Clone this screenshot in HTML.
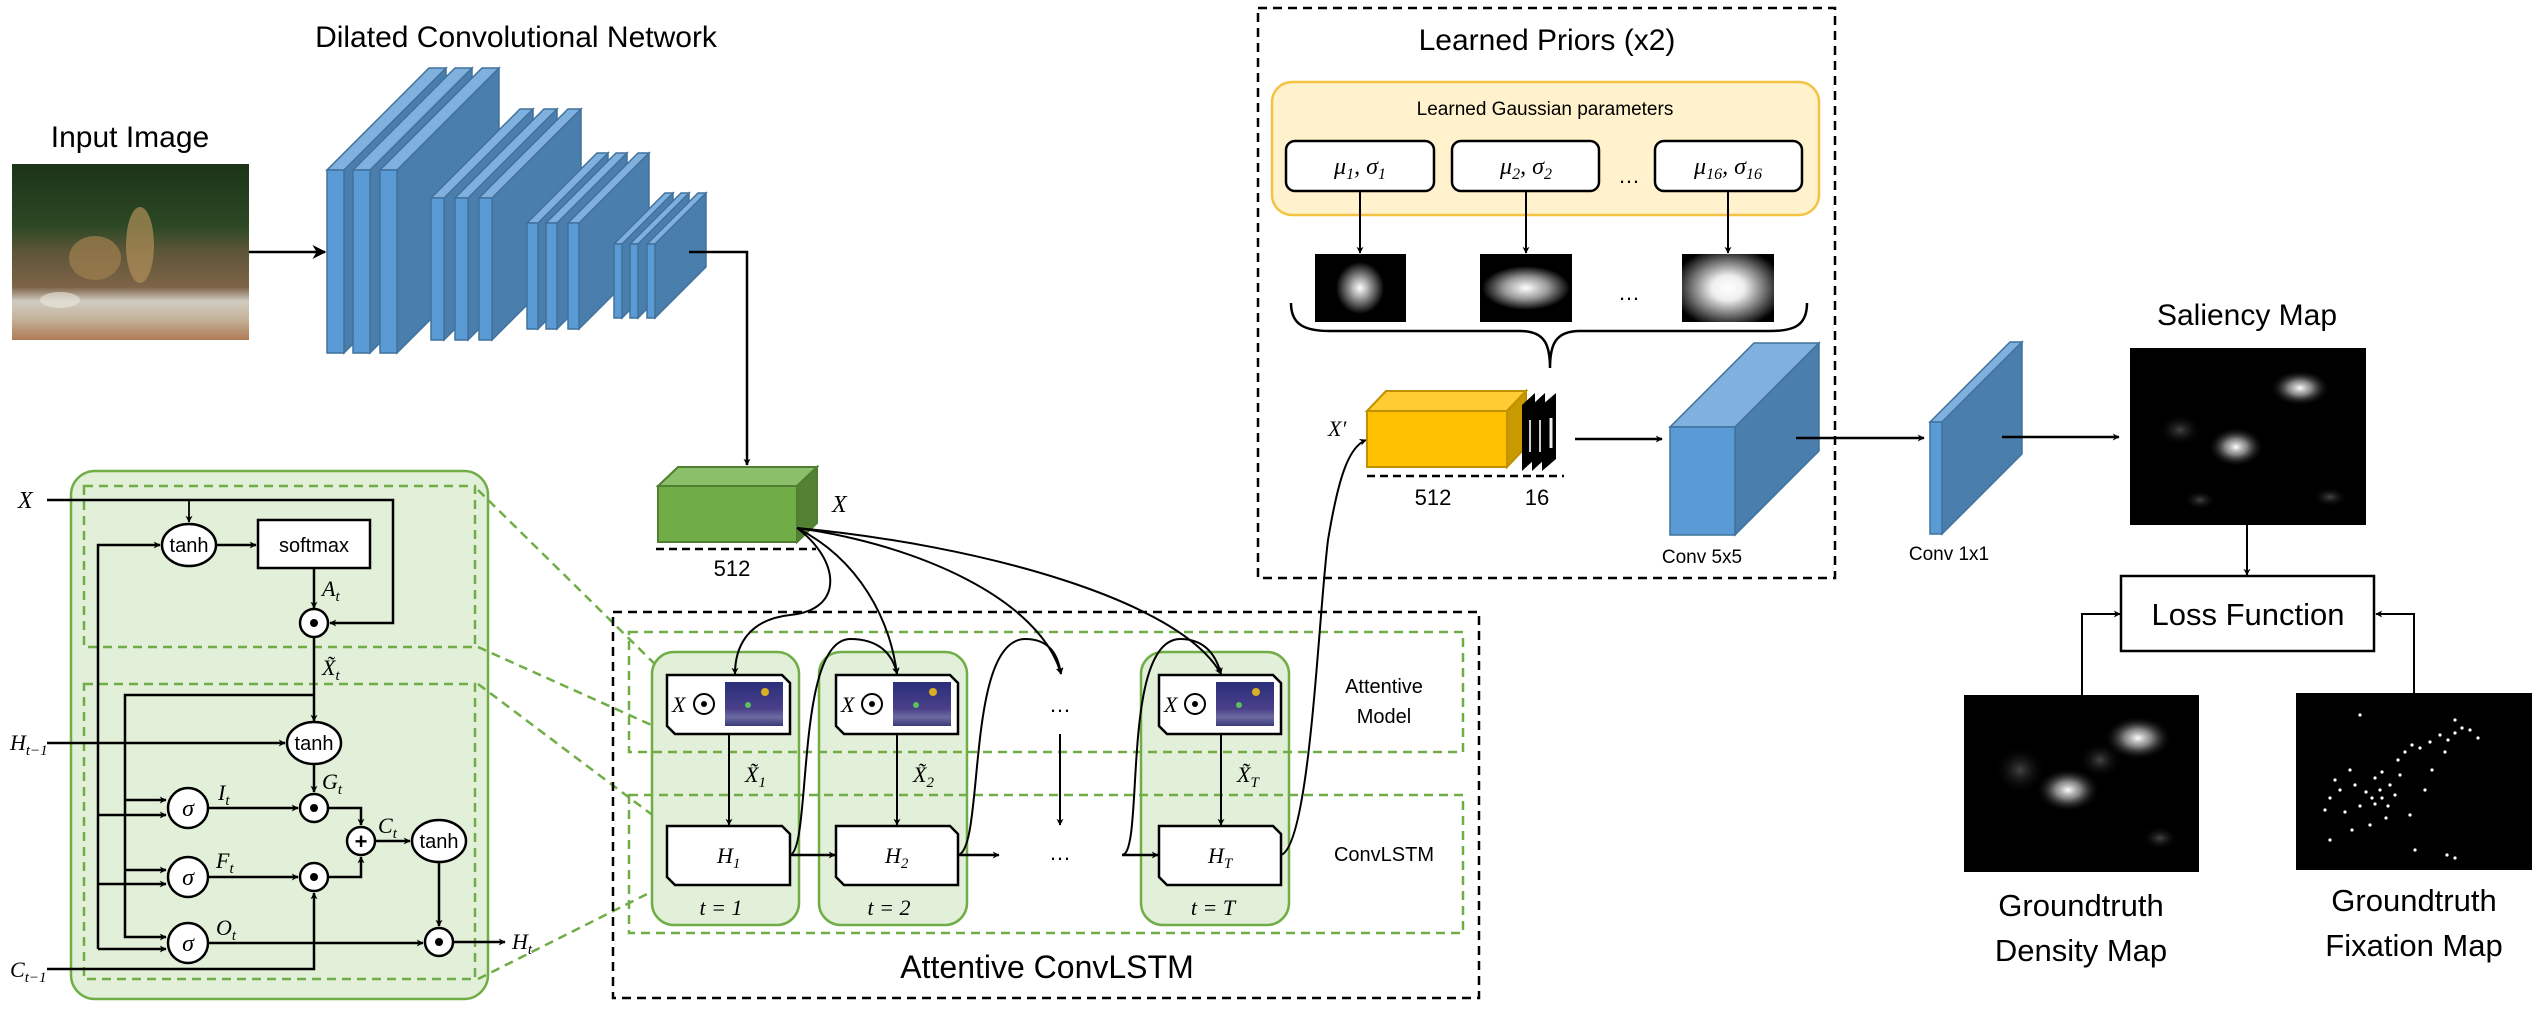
<!DOCTYPE html>
<html><head><meta charset="utf-8"><style>
html,body{margin:0;padding:0;background:#fff;}
svg{display:block;}
.s{font-family:"Liberation Sans",sans-serif;fill:#000;}
.m{font-family:"Liberation Serif",serif;font-style:italic;fill:#000;}
</style></head><body>
<svg width="2536" height="1010" viewBox="0 0 2536 1010" xmlns="http://www.w3.org/2000/svg">
<defs>
<marker id="a" viewBox="0 0 10 10" refX="9" refY="5" markerWidth="7" markerHeight="7" orient="auto-start-reverse" markerUnits="userSpaceOnUse"><path d="M0,0 L10,5 L0,10 L3,5 z" fill="#000"/></marker>
<marker id="b" viewBox="0 0 10 10" refX="9" refY="5" markerWidth="14" markerHeight="14" orient="auto" markerUnits="userSpaceOnUse"><path d="M0,0 L10,5 L0,10 L3,5 z" fill="#000"/></marker>
<radialGradient id="g1" cx="0.5" cy="0.5" r="0.5"><stop offset="0" stop-color="#fff"/><stop offset="0.35" stop-color="#aaa"/><stop offset="1" stop-color="#000"/></radialGradient>
<radialGradient id="g2"><stop offset="0" stop-color="#fff"/><stop offset="0.5" stop-color="#999"/><stop offset="1" stop-color="#000"/></radialGradient>
<radialGradient id="g3" cx="0.5" cy="0.5" r="0.6"><stop offset="0" stop-color="#fff"/><stop offset="0.3" stop-color="#eee"/><stop offset="0.75" stop-color="#555"/><stop offset="1" stop-color="#000"/></radialGradient>
<radialGradient id="blob"><stop offset="0" stop-color="#fff" stop-opacity="1"/><stop offset="0.4" stop-color="#bbb" stop-opacity="0.7"/><stop offset="1" stop-color="#000" stop-opacity="0"/></radialGradient>
<radialGradient id="faint"><stop offset="0" stop-color="#555" stop-opacity="0.8"/><stop offset="1" stop-color="#000" stop-opacity="0"/></radialGradient>
<linearGradient id="photo" x1="0" y1="0" x2="0" y2="1"><stop offset="0" stop-color="#1c3318"/><stop offset="0.35" stop-color="#2c4824"/><stop offset="0.5" stop-color="#5e5538"/><stop offset="0.7" stop-color="#7e6448"/><stop offset="0.78" stop-color="#d0ccc2"/><stop offset="0.88" stop-color="#c4b39a"/><stop offset="1" stop-color="#b07a55"/></linearGradient>
<linearGradient id="att" x1="0" y1="0" x2="0" y2="1"><stop offset="0" stop-color="#2a2f7a"/><stop offset="0.6" stop-color="#4a3f8a"/><stop offset="0.8" stop-color="#6b6aa0"/><stop offset="1" stop-color="#3a3a7a"/></linearGradient>
</defs>

<!-- Titles -->
<text class="s" x="516" y="47" font-size="30" text-anchor="middle">Dilated Convolutional Network</text>
<text class="s" x="130" y="147" font-size="30" text-anchor="middle">Input Image</text>

<!-- input photo -->
<rect x="12" y="164" width="237" height="176" fill="url(#photo)"/>
<ellipse cx="95" cy="258" rx="26" ry="22" fill="#a0804e" opacity="0.7"/>
<ellipse cx="140" cy="245" rx="14" ry="38" fill="#b08e58" opacity="0.7"/>
<ellipse cx="60" cy="300" rx="20" ry="8" fill="#ece8e0" opacity="0.6"/>
<line x1="249" y1="252" x2="325" y2="252" stroke="#000" stroke-width="2.5" marker-end="url(#b)"/>

<!-- conv slabs -->
<g stroke="#41719c" stroke-width="1.5">
<polygon points="344,170 446,68 446,251 344,353" fill="#4a7eac"/><polygon points="327,170 344,170 446,68 429,68" fill="#7fb0de"/><rect x="327" y="170" width="17" height="183" fill="#5b9bd5"/>
<polygon points="370,170 472,68 472,251 370,353" fill="#4a7eac"/><polygon points="353,170 370,170 472,68 455,68" fill="#7fb0de"/><rect x="353" y="170" width="17" height="183" fill="#5b9bd5"/>
<polygon points="397,170 499,68 499,251 397,353" fill="#4a7eac"/><polygon points="380,170 397,170 499,68 482,68" fill="#7fb0de"/><rect x="380" y="170" width="17" height="183" fill="#5b9bd5"/>

<polygon points="444,198 533,109 533,251 444,340" fill="#4a7eac"/><polygon points="431,198 444,198 533,109 520,109" fill="#7fb0de"/><rect x="431" y="198" width="13" height="142" fill="#5b9bd5"/>
<polygon points="468,198 557,109 557,251 468,340" fill="#4a7eac"/><polygon points="455,198 468,198 557,109 544,109" fill="#7fb0de"/><rect x="455" y="198" width="13" height="142" fill="#5b9bd5"/>
<polygon points="492,198 581,109 581,251 492,340" fill="#4a7eac"/><polygon points="479,198 492,198 581,109 568,109" fill="#7fb0de"/><rect x="479" y="198" width="13" height="142" fill="#5b9bd5"/>

<polygon points="538,223 608,153 608,259 538,329" fill="#4a7eac"/><polygon points="527,223 538,223 608,153 597,153" fill="#7fb0de"/><rect x="527" y="223" width="11" height="106" fill="#5b9bd5"/>
<polygon points="557,223 627,153 627,259 557,329" fill="#4a7eac"/><polygon points="546,223 557,223 627,153 616,153" fill="#7fb0de"/><rect x="546" y="223" width="11" height="106" fill="#5b9bd5"/>
<polygon points="579,223 649,153 649,259 579,329" fill="#4a7eac"/><polygon points="568,223 579,223 649,153 638,153" fill="#7fb0de"/><rect x="568" y="223" width="11" height="106" fill="#5b9bd5"/>

<polygon points="622,244 673,193 673,267 622,318" fill="#4a7eac"/><polygon points="614,244 622,244 673,193 665,193" fill="#7fb0de"/><rect x="614" y="244" width="8" height="74" fill="#5b9bd5"/>
<polygon points="638,244 689,193 689,267 638,318" fill="#4a7eac"/><polygon points="630,244 638,244 689,193 681,193" fill="#7fb0de"/><rect x="630" y="244" width="8" height="74" fill="#5b9bd5"/>
<polygon points="655,244 706,193 706,267 655,318" fill="#4a7eac"/><polygon points="647,244 655,244 706,193 698,193" fill="#7fb0de"/><rect x="647" y="244" width="8" height="74" fill="#5b9bd5"/>
</g>
<polyline points="689,252 747,252 747,465" fill="none" stroke="#000" stroke-width="2.5" marker-end="url(#a)"/>

<!-- green cube X -->
<g stroke="#507e32" stroke-width="2">
<polygon points="658,486 797,486 817,467 678,467" fill="#8cbf69"/>
<polygon points="797,486 817,467 817,523 797,542" fill="#548235"/>
<rect x="658" y="486" width="139" height="56" fill="#70ad47"/>
</g>
<text class="m" x="832" y="512" font-size="24">X</text>
<line x1="656" y1="549" x2="816" y2="549" stroke="#000" stroke-width="2.5" stroke-dasharray="8,5"/>
<text class="s" x="732" y="576" font-size="22" text-anchor="middle">512</text>

<!-- LSTM cell -->
<rect x="71" y="471" width="417" height="528" rx="24" fill="#e2efd9" stroke="#70ad47" stroke-width="2.5"/>
<g fill="none" stroke="#70ad47" stroke-width="2.5" stroke-dasharray="9,6">
<rect x="84" y="486" width="391" height="161"/>
<rect x="84" y="684" width="391" height="295"/>
<line x1="478" y1="490" x2="667" y2="676"/>
<line x1="478" y1="647" x2="667" y2="732"/>
<line x1="478" y1="684" x2="667" y2="826"/>
<line x1="478" y1="979" x2="667" y2="884"/>
</g>
<g fill="none" stroke="#000" stroke-width="2.5">
<polyline points="47,500 393,500 393,623 330,623" marker-end="url(#a)"/>
<line x1="189" y1="500" x2="189" y2="522" stroke-width="1.8" marker-end="url(#a)"/>
<polyline points="98,949 98,545 160,545" marker-end="url(#a)"/>
<line x1="216" y1="545" x2="256" y2="545" marker-end="url(#a)"/>
<line x1="314" y1="568" x2="314" y2="608" marker-end="url(#a)"/>
<line x1="314" y1="637" x2="314" y2="721" marker-end="url(#a)"/>
<polyline points="314,695 125,695 125,937 166,937" marker-end="url(#a)"/>
<line x1="47" y1="743" x2="285" y2="743" marker-end="url(#a)"/>
<line x1="125" y1="800" x2="166" y2="800" marker-end="url(#a)"/>
<line x1="98" y1="815" x2="166" y2="815" marker-end="url(#a)"/>
<line x1="125" y1="870" x2="166" y2="870" marker-end="url(#a)"/>
<line x1="98" y1="884" x2="166" y2="884" marker-end="url(#a)"/>
<line x1="98" y1="949" x2="166" y2="949" marker-end="url(#a)"/>
<line x1="314" y1="764" x2="314" y2="792" marker-end="url(#a)"/>
<line x1="208" y1="808" x2="298" y2="808" marker-end="url(#a)"/>
<line x1="208" y1="877" x2="298" y2="877" marker-end="url(#a)"/>
<polyline points="328,808 361,808 361,825" marker-end="url(#a)"/>
<polyline points="328,877 361,877 361,857" marker-end="url(#a)"/>
<line x1="375" y1="841" x2="410" y2="841" marker-end="url(#a)"/>
<line x1="439" y1="862" x2="439" y2="926" marker-end="url(#a)"/>
<line x1="208" y1="943" x2="423" y2="943" marker-end="url(#a)"/>
<polyline points="47,969 314,969 314,893" marker-end="url(#a)"/>
<line x1="453" y1="942" x2="505" y2="942" marker-end="url(#a)"/>
</g>
<g fill="#fff" stroke="#000" stroke-width="2.5">
<ellipse cx="189" cy="545" rx="27" ry="21"/>
<rect x="258" y="520" width="112" height="48"/>
<circle cx="314" cy="623" r="14"/>
<ellipse cx="314" cy="743" rx="27" ry="21"/>
<circle cx="188" cy="808" r="20"/><circle cx="188" cy="877" r="20"/><circle cx="188" cy="943" r="20"/>
<circle cx="314" cy="808" r="14"/><circle cx="314" cy="877" r="14"/>
<circle cx="361" cy="841" r="14"/>
<ellipse cx="439" cy="841" rx="27" ry="21"/>
<circle cx="439" cy="942" r="14"/>
</g>
<g fill="#000"><circle cx="314" cy="623" r="4"/><circle cx="314" cy="808" r="4"/><circle cx="314" cy="877" r="4"/><circle cx="439" cy="942" r="4"/></g>
<text class="s" x="361" y="849" font-size="22" text-anchor="middle" font-weight="bold">+</text>
<g class="s" font-size="20" text-anchor="middle">
<text x="189" y="552">tanh</text><text x="314" y="552">softmax</text><text x="314" y="750">tanh</text><text x="439" y="848">tanh</text>
</g>
<g class="m" font-size="24" text-anchor="middle">
<text x="188" y="816">σ</text><text x="188" y="885">σ</text><text x="188" y="951">σ</text>
</g>
<g class="m" font-size="22">
<text x="18" y="508" font-size="24">X</text>
<text x="322" y="596">A<tspan font-size="15" dy="5">t</tspan></text>
<text x="322" y="675">X̃<tspan font-size="15" dy="5">t</tspan></text>
<text x="10" y="750">H<tspan font-size="15" dy="5">t−1</tspan></text>
<text x="322" y="789">G<tspan font-size="15" dy="5">t</tspan></text>
<text x="218" y="800">I<tspan font-size="15" dy="5">t</tspan></text>
<text x="216" y="868">F<tspan font-size="15" dy="5">t</tspan></text>
<text x="216" y="935">O<tspan font-size="15" dy="5">t</tspan></text>
<text x="378" y="833">C<tspan font-size="15" dy="5">t</tspan></text>
<text x="10" y="977">C<tspan font-size="15" dy="5">t−1</tspan></text>
<text x="512" y="949">H<tspan font-size="15" dy="5">t</tspan></text>
</g>

<!-- Attentive ConvLSTM -->
<rect x="613" y="612" width="866" height="386" fill="none" stroke="#000" stroke-width="2.5" stroke-dasharray="9,6"/>
<g fill="#e2efd9" stroke="#70ad47" stroke-width="2.5">
<rect x="652" y="652" width="147" height="273" rx="22"/>
<rect x="819" y="652" width="148" height="273" rx="22"/>
<rect x="1141" y="652" width="148" height="273" rx="22"/>
</g>
<g fill="none" stroke="#70ad47" stroke-width="2.5" stroke-dasharray="9,6">
<rect x="629" y="632" width="834" height="120"/>
<rect x="629" y="795" width="834" height="138"/>
</g>
<g fill="#fff" stroke="#000" stroke-width="2.5">
<polygon points="667,675 782,675 790,683 790,734 675,734 667,726"/>
<polygon points="836,675 950,675 958,683 958,734 844,734 836,726"/>
<polygon points="1159,675 1273,675 1281,683 1281,734 1167,734 1159,726"/>
<polygon points="667,826 782,826 790,834 790,885 675,885 667,877"/>
<polygon points="836,826 950,826 958,834 958,885 844,885 836,877"/>
<polygon points="1159,826 1273,826 1281,834 1281,885 1167,885 1159,877"/>
</g>
<g>
<rect x="725" y="682" width="58" height="44" fill="url(#att)"/>
<rect x="893" y="682" width="58" height="44" fill="url(#att)"/>
<rect x="1216" y="682" width="58" height="44" fill="url(#att)"/>
<g fill="#d8b020"><circle cx="765" cy="692" r="4"/><circle cx="933" cy="692" r="4"/><circle cx="1256" cy="692" r="4"/></g>
<g fill="#5cc060"><circle cx="748" cy="705" r="3"/><circle cx="916" cy="705" r="3"/><circle cx="1239" cy="705" r="3"/></g>
</g>
<g class="m" font-size="22">
<text x="672" y="712">X</text><text x="841" y="712">X</text><text x="1164" y="712">X</text>
</g>
<g fill="none" stroke="#000" stroke-width="2"><circle cx="704" cy="704" r="10"/><circle cx="872" cy="704" r="10"/><circle cx="1195" cy="704" r="10"/></g>
<g fill="#000"><circle cx="704" cy="704" r="3"/><circle cx="872" cy="704" r="3"/><circle cx="1195" cy="704" r="3"/></g>
<g fill="none" stroke="#000" stroke-width="2">
<line x1="729" y1="734" x2="729" y2="825" marker-end="url(#a)"/>
<line x1="897" y1="734" x2="897" y2="825" marker-end="url(#a)"/>
<line x1="1221" y1="734" x2="1221" y2="825" marker-end="url(#a)"/>
<line x1="1060" y1="734" x2="1060" y2="825" marker-end="url(#a)"/>
<line x1="790" y1="855" x2="835" y2="855" stroke-width="2.5" marker-end="url(#a)"/>
<line x1="958" y1="855" x2="999" y2="855" stroke-width="2.5" marker-end="url(#a)"/>
<line x1="1122" y1="855" x2="1158" y2="855" stroke-width="2.5" marker-end="url(#a)"/>
<path d="M797,528 C840,560 845,610 790,615 C745,620 735,650 735,674" marker-end="url(#a)"/>
<path d="M797,528 C860,560 890,620 897,674" marker-end="url(#a)"/>
<path d="M797,528 C920,545 1040,600 1061,674" marker-end="url(#a)"/>
<path d="M797,528 C980,545 1180,600 1221,674" marker-end="url(#a)"/>
<path d="M790,855 C812,850 795,640 850,639 C880,639 893,655 897,674" marker-end="url(#a)"/>
<path d="M958,855 C985,850 965,640 1025,639 C1050,639 1058,655 1061,674" marker-end="url(#a)"/>
<path d="M1122,855 C1145,855 1120,640 1180,639 C1205,639 1216,655 1221,674" marker-end="url(#a)"/>
<path d="M1281,855 C1310,845 1318,620 1328,540 C1338,480 1348,447 1366,440" marker-end="url(#a)"/>
</g>
<g class="m" font-size="22">
<text x="745" y="782">X̃<tspan font-size="15" dy="5">1</tspan></text>
<text x="913" y="782">X̃<tspan font-size="15" dy="5">2</tspan></text>
<text x="1237" y="782">X̃<tspan font-size="15" dy="5">T</tspan></text>
<text x="717" y="863">H<tspan font-size="15" dy="5">1</tspan></text>
<text x="885" y="863">H<tspan font-size="15" dy="5">2</tspan></text>
<text x="1208" y="863">H<tspan font-size="15" dy="5">T</tspan></text>
<text x="721" y="915" text-anchor="middle">t = 1</text>
<text x="889" y="915" text-anchor="middle">t = 2</text>
<text x="1213" y="915" text-anchor="middle">t = T</text>
</g>
<g class="s" font-size="22" text-anchor="middle">
<text x="1060" y="712">…</text><text x="1060" y="860">…</text>
<text x="1384" y="693" font-size="20">Attentive</text>
<text x="1384" y="723" font-size="20">Model</text>
<text x="1384" y="861" font-size="20">ConvLSTM</text>
<text x="1047" y="978" font-size="32">Attentive ConvLSTM</text>
</g>

<!-- Learned Priors -->
<rect x="1258" y="8" width="577" height="570" fill="none" stroke="#000" stroke-width="2.5" stroke-dasharray="9,6"/>
<text class="s" x="1547" y="50" font-size="30" text-anchor="middle">Learned Priors (x2)</text>
<rect x="1272" y="82" width="547" height="133" rx="20" fill="#fff2cc" stroke="#f5c342" stroke-width="2.5"/>
<text class="s" x="1545" y="115" font-size="19" text-anchor="middle">Learned Gaussian parameters</text>
<g fill="#fff" stroke="#000" stroke-width="2.5">
<rect x="1286" y="141" width="148" height="50" rx="9"/>
<rect x="1452" y="141" width="147" height="50" rx="9"/>
<rect x="1655" y="141" width="147" height="50" rx="9"/>
</g>
<g class="m" font-size="24" text-anchor="middle">
<text x="1360" y="174">μ<tspan font-size="16" dy="5">1</tspan><tspan dy="-5">, σ</tspan><tspan font-size="16" dy="5">1</tspan></text>
<text x="1526" y="174">μ<tspan font-size="16" dy="5">2</tspan><tspan dy="-5">, σ</tspan><tspan font-size="16" dy="5">2</tspan></text>
<text x="1728" y="174">μ<tspan font-size="16" dy="5">16</tspan><tspan dy="-5">, σ</tspan><tspan font-size="16" dy="5">16</tspan></text>
</g>
<g class="s" font-size="22" text-anchor="middle"><text x="1629" y="183">…</text><text x="1629" y="300">…</text></g>
<g stroke="#000" stroke-width="2" fill="none">
<line x1="1360" y1="191" x2="1360" y2="253" marker-end="url(#a)"/>
<line x1="1526" y1="191" x2="1526" y2="253" marker-end="url(#a)"/>
<line x1="1728" y1="191" x2="1728" y2="253" marker-end="url(#a)"/>
<path d="M1291,303 C1291,325 1305,331 1330,331 L1520,331 C1545,331 1550,345 1550,368 C1550,345 1555,331 1580,331 L1770,331 C1795,331 1807,325 1807,303" stroke-width="2.5"/>
</g>
<rect x="1315" y="254" width="91" height="68" fill="#000"/>
<ellipse cx="1360" cy="288" rx="24" ry="26" fill="url(#g1)"/>
<rect x="1480" y="254" width="92" height="68" fill="#000"/>
<ellipse cx="1526" cy="288" rx="44" ry="22" fill="url(#g2)"/>
<rect x="1682" y="254" width="92" height="68" fill="url(#g3)"/>

<g stroke="#bf9000" stroke-width="2">
<polygon points="1367,411 1507,411 1526,391 1386,391" fill="#ffcc33"/>
<polygon points="1507,411 1526,391 1526,447 1507,467" fill="#c99a00"/>
<rect x="1367" y="411" width="140" height="56" fill="#ffc000"/>
</g>
<g>
<polygon points="1522,405 1535,393 1535,459 1522,471" fill="#000"/>
<polygon points="1532,405 1545,393 1545,459 1532,471" fill="#000"/>
<polygon points="1542,405 1556,393 1556,459 1542,471" fill="#000"/>
<line x1="1530" y1="420" x2="1530" y2="452" stroke="#ccc" stroke-width="2"/>
<line x1="1540" y1="420" x2="1540" y2="452" stroke="#ccc" stroke-width="2"/>
<line x1="1551" y1="418" x2="1551" y2="448" stroke="#eee" stroke-width="3"/>
</g>
<line x1="1367" y1="476" x2="1564" y2="476" stroke="#000" stroke-width="2.5" stroke-dasharray="8,5"/>
<text class="s" x="1433" y="505" font-size="22" text-anchor="middle">512</text>
<text class="s" x="1537" y="505" font-size="22" text-anchor="middle">16</text>
<text class="m" x="1328" y="436" font-size="22">X′</text>
<line x1="1575" y1="439" x2="1662" y2="439" stroke="#000" stroke-width="2.5" marker-end="url(#a)"/>

<g stroke="#41719c" stroke-width="1.5">
<polygon points="1670,427 1735,427 1819,343 1754,343" fill="#7fb0de"/>
<polygon points="1735,427 1819,343 1819,451 1735,535" fill="#4a7eac"/>
<rect x="1670" y="427" width="65" height="108" fill="#5b9bd5"/>
<polygon points="1930,422 1942,422 2022,342 2010,342" fill="#7fb0de"/>
<polygon points="1942,422 2022,342 2022,454 1942,534" fill="#4a7eac"/>
<rect x="1930" y="422" width="12" height="112" fill="#5b9bd5"/>
</g>
<text class="s" x="1702" y="563" font-size="19" text-anchor="middle">Conv 5x5</text>
<text class="s" x="1949" y="560" font-size="19" text-anchor="middle">Conv 1x1</text>
<line x1="1796" y1="438" x2="1924" y2="438" stroke="#000" stroke-width="2.5" marker-end="url(#a)"/>
<line x1="2002" y1="437" x2="2119" y2="437" stroke="#000" stroke-width="2.5" marker-end="url(#a)"/>

<!-- Saliency & loss -->
<text class="s" x="2247" y="325" font-size="30" text-anchor="middle">Saliency Map</text>
<rect x="2130" y="348" width="236" height="177" fill="#000"/>
<ellipse cx="2300" cy="388" rx="30" ry="18" fill="url(#blob)"/>
<ellipse cx="2236" cy="447" rx="28" ry="20" fill="url(#blob)"/>
<ellipse cx="2180" cy="430" rx="22" ry="16" fill="url(#faint)"/>
<ellipse cx="2330" cy="497" rx="18" ry="10" fill="url(#faint)"/>
<ellipse cx="2200" cy="500" rx="16" ry="10" fill="url(#faint)"/>
<line x1="2247" y1="525" x2="2247" y2="575" stroke="#000" stroke-width="2" marker-end="url(#a)"/>
<rect x="2121" y="576" width="253" height="75" fill="#fff" stroke="#000" stroke-width="2.5"/>
<text class="s" x="2248" y="625" font-size="31" text-anchor="middle">Loss Function</text>

<rect x="1964" y="695" width="235" height="177" fill="#000"/>
<ellipse cx="2138" cy="738" rx="34" ry="22" fill="url(#blob)"/>
<ellipse cx="2068" cy="790" rx="32" ry="22" fill="url(#blob)"/>
<ellipse cx="2020" cy="770" rx="26" ry="24" fill="url(#faint)"/>
<ellipse cx="2100" cy="760" rx="22" ry="18" fill="url(#faint)"/>
<ellipse cx="2160" cy="838" rx="18" ry="12" fill="url(#faint)"/>
<polyline points="2082,695 2082,614 2120,614" fill="none" stroke="#000" stroke-width="2" marker-end="url(#a)"/>

<rect x="2296" y="693" width="236" height="177" fill="#000"/>
<g fill="#fff">
<circle cx="2360" cy="715" r="1.6"/><circle cx="2470" cy="730" r="1.6"/><circle cx="2478" cy="738" r="1.6"/><circle cx="2455" cy="720" r="1.6"/>
<circle cx="2440" cy="735" r="1.6"/><circle cx="2448" cy="740" r="1.6"/><circle cx="2430" cy="742" r="1.6"/><circle cx="2420" cy="748" r="1.6"/><circle cx="2412" cy="745" r="1.6"/><circle cx="2405" cy="752" r="1.6"/><circle cx="2398" cy="760" r="1.6"/><circle cx="2455" cy="733" r="1.6"/><circle cx="2462" cy="728" r="1.6"/><circle cx="2445" cy="752" r="1.6"/>
<circle cx="2400" cy="775" r="1.6"/><circle cx="2390" cy="785" r="1.6"/><circle cx="2380" cy="790" r="1.6"/><circle cx="2372" cy="798" r="1.6"/><circle cx="2366" cy="792" r="1.6"/><circle cx="2375" cy="804" r="1.6"/><circle cx="2382" cy="798" r="1.6"/><circle cx="2388" cy="806" r="1.6"/><circle cx="2360" cy="806" r="1.6"/><circle cx="2395" cy="795" r="1.6"/>
<circle cx="2335" cy="780" r="1.6"/><circle cx="2340" cy="790" r="1.6"/><circle cx="2330" cy="798" r="1.6"/><circle cx="2325" cy="810" r="1.6"/><circle cx="2345" cy="812" r="1.6"/><circle cx="2350" cy="770" r="1.6"/><circle cx="2355" cy="785" r="1.6"/>
<circle cx="2370" cy="825" r="1.6"/><circle cx="2352" cy="830" r="1.6"/><circle cx="2386" cy="818" r="1.6"/><circle cx="2410" cy="815" r="1.6"/><circle cx="2425" cy="790" r="1.6"/><circle cx="2432" cy="770" r="1.6"/>
<circle cx="2330" cy="840" r="1.6"/><circle cx="2415" cy="850" r="1.6"/><circle cx="2447" cy="855" r="1.6"/><circle cx="2455" cy="858" r="1.6"/><circle cx="2382" cy="772" r="1.6"/><circle cx="2375" cy="778" r="1.6"/>
</g>
<polyline points="2414,693 2414,614 2376,614" fill="none" stroke="#000" stroke-width="2" marker-end="url(#a)"/>

<g class="s" font-size="31" text-anchor="middle">
<text x="2081" y="916">Groundtruth</text><text x="2081" y="961">Density Map</text>
<text x="2414" y="911">Groundtruth</text><text x="2414" y="956">Fixation Map</text>
</g>
</svg>
</body></html>
